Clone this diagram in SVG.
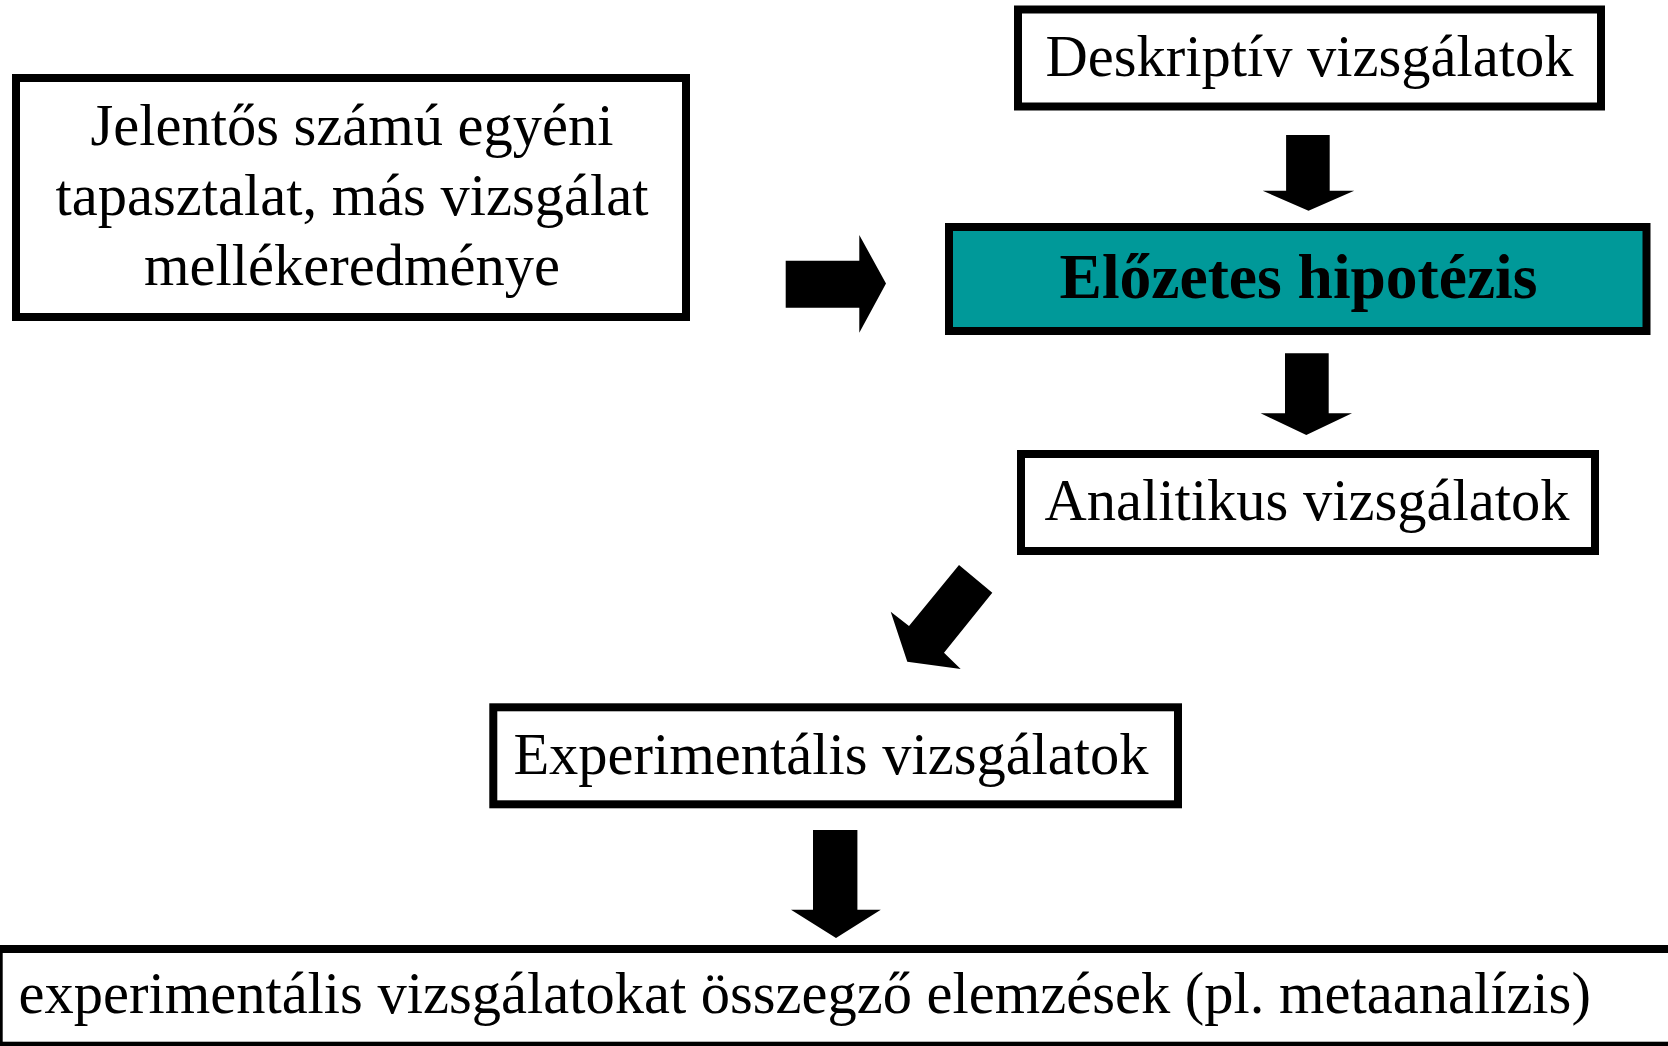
<svg xmlns="http://www.w3.org/2000/svg" width="1668" height="1046" viewBox="0 0 1668 1046">
<style>
.box{fill:#ffffff;stroke:#000000;stroke-width:8}
.teal{fill:#009999;stroke:#000000;stroke-width:8}
.t{font-family:"Liberation Serif","Times New Roman",serif;font-size:58.5px;fill:#000000}
.b{font-family:"Liberation Serif","Times New Roman",serif;font-size:63.5px;font-weight:bold;fill:#000000}
.arr{fill:#000000;stroke:none}
</style>
<rect x="0" y="0" width="1668" height="1046" fill="#ffffff"/>
<g id="node-jelentos">
<rect class="box" x="16" y="78" width="670" height="239"/>
<text class="t" x="352" y="145" text-anchor="middle">Jelentős számú egyéni</text>
<text class="t" x="352" y="215" text-anchor="middle">tapasztalat, más vizsgálat</text>
<text class="t" x="352" y="285" text-anchor="middle">mellékeredménye</text>
</g>
<g id="node-deskriptiv">
<rect class="box" x="1018" y="9.5" width="583" height="97"/>
<text class="t" x="1309.5" y="76" text-anchor="middle">Deskriptív vizsgálatok</text>
</g>
<g id="node-elozetes">
<rect class="teal" x="949" y="227" width="697.5" height="104"/>
<text class="b" x="1298.5" y="298" text-anchor="middle">Előzetes hipotézis</text>
</g>
<g id="node-analitikus">
<rect class="box" x="1021" y="454" width="574" height="97"/>
<text class="t" x="1307" y="520" text-anchor="middle">Analitikus vizsgálatok</text>
</g>
<g id="node-experimentalis">
<rect class="box" x="493.3" y="707.3" width="684.7" height="97"/>
<text class="t" x="831" y="773.5" text-anchor="middle">Experimentális vizsgálatok</text>
</g>
<g id="node-osszegzo">
<rect class="box" x="-1.3" y="949" width="1700" height="96.7"/>
<text class="t" x="18.5" y="1013">experimentális vizsgálatokat összegző elemzések (pl. metaanalízis)</text>
</g>
<g id="connectors">
<polygon class="arr" points="785.7,260.7 859.3,260.7 859.3,235 886,283.5 859.3,332.7 859.3,307.7 785.7,307.7"/>
<polygon class="arr" points="1286.1,135 1329.7,135 1329.7,190.7 1354.2,190.7 1308.5,210.7 1262.7,190.7 1286.1,190.7"/>
<polygon class="arr" points="1285,353.3 1328.7,353.3 1328.7,413.3 1352,413.3 1306.3,435 1260.6,413.3 1285,413.3"/>
<polygon class="arr" points="959,565 992.3,592.7 944,652.7 960.7,669 907.3,661.7 890.7,611.7 909,626"/>
<polygon class="arr" points="813,830 857.4,830 857.4,909.7 880.8,909.7 836,938 791,909.7 813,909.7"/>
</g>
</svg>
